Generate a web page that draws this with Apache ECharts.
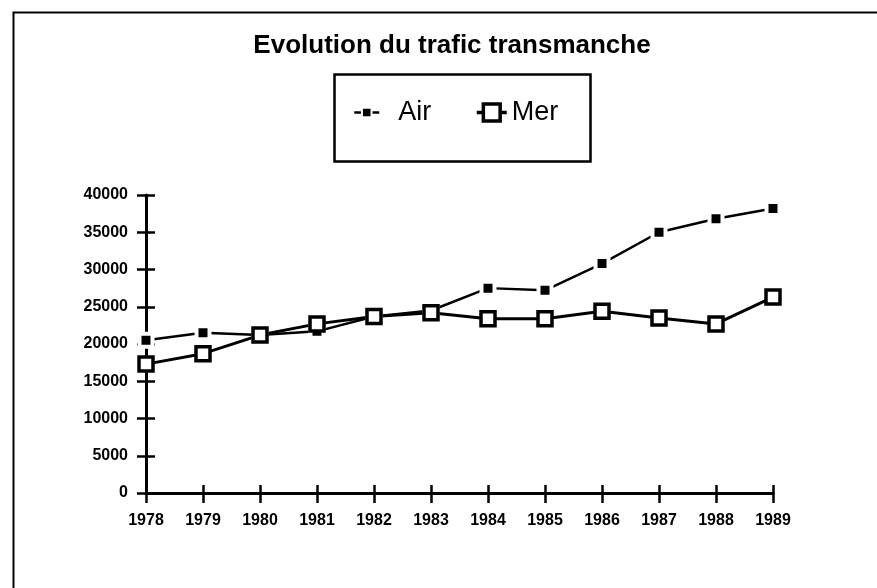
<!DOCTYPE html>
<html>
<head>
<meta charset="utf-8">
<script src="https://cdn.jsdelivr.net/npm/echarts@6/dist/echarts.min.js"></script>
<style>
  html, body { margin: 0; padding: 0; background: #fff; }
  #chart { width: 877px; height: 588px; }
</style>
</head>
<body>
<div id="chart"></div>
<script>
// donnees
var years = ['1978', '1979', '1980', '1981', '1982', '1983', '1984', '1985', '1986', '1987', '1988', '1989'];
var airData = [20500, 21500, 21200, 21700, 23700, 24500, 27500, 27200, 30800, 35000, 36800, 38200];
var merData = [17300, 18700, 21200, 22700, 23700, 24200, 23400, 23400, 24400, 23500, 22700, 26300];
var yMin = 0, yMax = 40000, yStep = 5000;

var font = '"Liberation Sans", Arial, sans-serif';

var myChart = echarts.init(document.getElementById('chart'));

var option = {
  backgroundColor: '#fff',
  animation: false,
  title: {
    text: 'Evolution du trafic transmanche',
    left: 447,
    textAlign: 'center',
    top: 28,
    textStyle: { fontFamily: font, fontSize: 26, fontWeight: 'bold', color: '#000' }
  },
  graphic: [
    { // cadre
      type: 'rect', left: 11, top: 10, z: -1,
      shape: { width: 880, height: 590 },
      style: { fill: 'none', stroke: '#000', lineWidth: 2 }
    },
    { // boite de legende
      type: 'rect', left: 332, top: 72, z: -1,
      shape: { width: 256, height: 87 },
      style: { fill: 'none', stroke: '#000', lineWidth: 2.5 }
    }
  ],
  legend: [
    {
      data: ['Air'], left: 353, top: 99, padding: 0,
      itemWidth: 25, itemHeight: 12,
      lineStyle: { width: 2.5 },
      textStyle: { fontFamily: font, fontSize: 27, color: '#000', padding: [0, 0, 0, 14] }
    },
    {
      data: ['Mer'], left: 475, top: 99, padding: 0,
      itemWidth: 30, itemHeight: 21,
      lineStyle: { width: 3.5 },
      itemStyle: { borderWidth: 3.5 },
      textStyle: { fontFamily: font, fontSize: 27, color: '#000' }
    }
  ],
  grid: { left: 146, right: 104, top: 195, bottom: 95 },
  xAxis: [
    {
      type: 'category', data: years, boundaryGap: false,
      axisLine: { lineStyle: { color: '#000', width: 3 } },
      axisTick: { show: true, length: 10, lineStyle: { color: '#000', width: 2.5 } },
      axisLabel: { color: '#000', fontFamily: font, fontSize: 16, fontWeight: 'bold', margin: 20 },
      splitLine: { show: false }
    },
    {
      type: 'category', data: years, boundaryGap: false, position: 'bottom', offset: 0,
      axisLine: { show: true, onZero: false, lineStyle: { color: '#000', width: 3 } },
      axisTick: { show: true, inside: true, length: 8, lineStyle: { color: '#000', width: 2.5 } },
      axisLabel: { show: false },
      splitLine: { show: false }
    }
  ],
  yAxis: [
    {
      type: 'value', min: yMin, max: yMax, interval: yStep,
      axisLine: { show: true, lineStyle: { color: '#000', width: 3 } },
      axisTick: { show: true, length: 9, lineStyle: { color: '#000', width: 2.5 } },
      axisLabel: {
        color: '#000', fontFamily: font, fontSize: 16, fontWeight: 'bold', margin: 18,
        formatter: function (v) { return String(v); }
      },
      splitLine: { show: false }
    },
    {
      type: 'value', min: yMin, max: yMax, interval: yStep, position: 'left',
      axisLine: { show: false },
      axisTick: { show: true, inside: true, length: 9, lineStyle: { color: '#000', width: 2.5 } },
      axisLabel: { show: false },
      splitLine: { show: false }
    }
  ],
  series: [
    {
      name: 'Air', type: 'line', data: airData,
      symbol: 'rect', symbolSize: 13,
      lineStyle: { color: '#000', width: 2.5 },
      itemStyle: { color: '#000', borderColor: '#fff', borderWidth: 4 }
    },
    {
      name: 'Mer', type: 'line', data: merData,
      symbol: 'rect', symbolSize: 14,
      lineStyle: { color: '#000', width: 3 },
      itemStyle: { color: '#fff', borderColor: '#000', borderWidth: 3.5 }
    }
  ]
};

myChart.setOption(option);
</script>
</body>
</html>
